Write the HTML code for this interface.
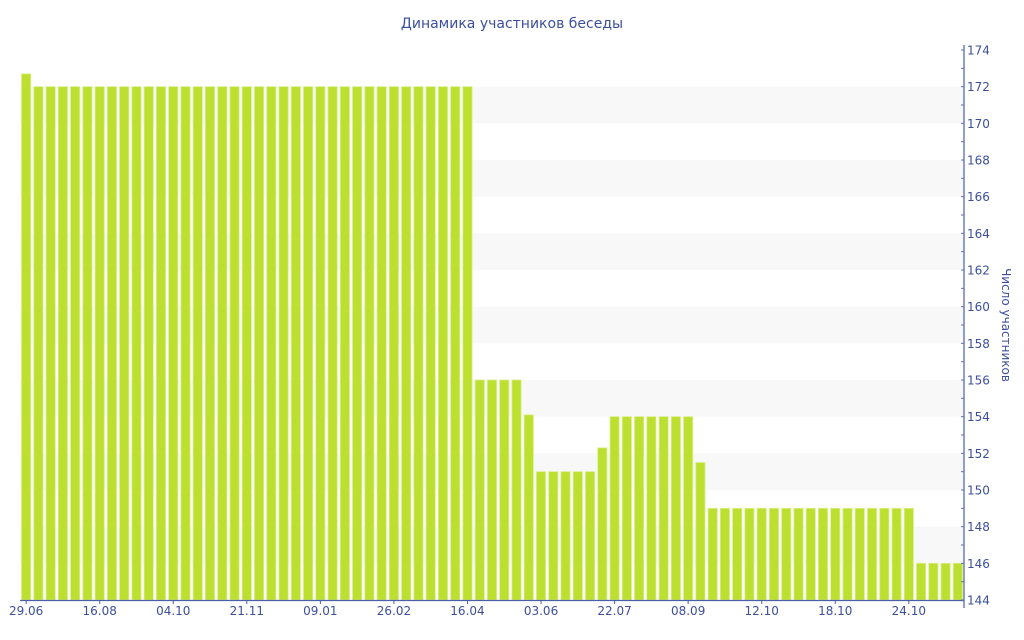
<!DOCTYPE html>
<html><head><meta charset="utf-8"><style>
html,body{margin:0;padding:0;background:#fff;}
svg{display:block;font-family:"DejaVu Sans","Liberation Sans",sans-serif;}
</style></head><body>
<svg id="chart" width="1024" height="640">
<text x="512" y="28" text-anchor="middle" font-size="14" fill="#3c4f9c">Динамика участников беседы</text>
<g id="bands"></g><g id="bars"></g><g id="axes"></g>
<text transform="translate(1002,325) rotate(90)" text-anchor="middle" font-size="12" fill="#3c4f9c">Число участников</text>
</svg>
<script>
const values = [172.7,
 172,172,172,172,172,172,172,172,172,172,172,172,172,172,172,172,172,172,172,172,172,172,172,172,172,172,172,172,172,172,172,172,172,172,172,172,
 156,156,156,156,154.1,151,151,151,151,151,152.3,154,154,154,154,154,154,154,151.5,
 149,149,149,149,149,149,149,149,149,149,149,149,149,149,149,149,149,
 146,146,146,146];
const xLabels = ["29.06","16.08","04.10","21.11","09.01","26.02","16.04","03.06","22.07","08.09","12.10","18.10","24.10"];
const xLabelIdx = [0,6,12,18,24,30,36,42,48,54,60,66,72];
const yTicks = [144,146,148,150,152,154,156,158,160,162,164,166,168,170,172,174];
const NS="http://www.w3.org/2000/svg";
const X0=20,X1=964,Y0=600,Y1=50,YMIN=144,YMAX=174;
const pitch=(X1-X0)/values.length;
const y=v=>Y0-(v-YMIN)/(YMAX-YMIN)*(Y0-Y1);
const xc=i=>X0+(i+0.5)*pitch;
function mk(t,a,p){const e=document.createElementNS(NS,t);for(const k in a)e.setAttribute(k,a[k]);p.appendChild(e);return e;}
const bands=document.getElementById('bands'),bars=document.getElementById('bars'),axes=document.getElementById('axes');
for(let v=146;v<174;v+=4){
 const r=mk('rect',{x:X0,y:y(v+2),width:X1-X0,height:y(v)-y(v+2),fill:'#f8f8f8'},bands);
 
 
}
values.forEach((v,i)=>{
 const r=mk('rect',{x:xc(i)-4.6,y:y(v),width:9.2,height:Y0-y(v),fill:'#bde030',stroke:'#d8ef8a','stroke-width':0.8},bars);
 
 
});
mk('line',{x1:X0,y1:Y0+0.5,x2:X1,y2:Y0+0.5,stroke:'#4a5fa8','stroke-width':1.2},axes);
mk('line',{x1:X1,y1:Y1-5,x2:X1,y2:Y0+8,stroke:'#4a5fa8','stroke-width':1.2},axes);
for(let v=YMIN;v<=YMAX;v++){
 mk('line',{x1:X1-3,y1:y(v),x2:X1,y2:y(v),stroke:'#6070b0','stroke-width':1},axes);
}
yTicks.forEach(v=>{
 const t=mk('text',{x:X1+3,y:y(v)+4.5,'font-size':12,fill:'#3c4f9c'},axes);
 t.textContent=v;
 
 
});
xLabels.forEach((l,k)=>{
 const x=xc(xLabelIdx[k]);
 mk('line',{x1:x,y1:Y0,x2:x,y2:Y0+4,stroke:'#4a5fa8','stroke-width':1},axes);
 const t=mk('text',{x:x,y:Y0+15,'font-size':12,fill:'#3c4f9c','text-anchor':'middle'},axes);
 t.textContent=l;
 
 
});
</script>
</body></html>
